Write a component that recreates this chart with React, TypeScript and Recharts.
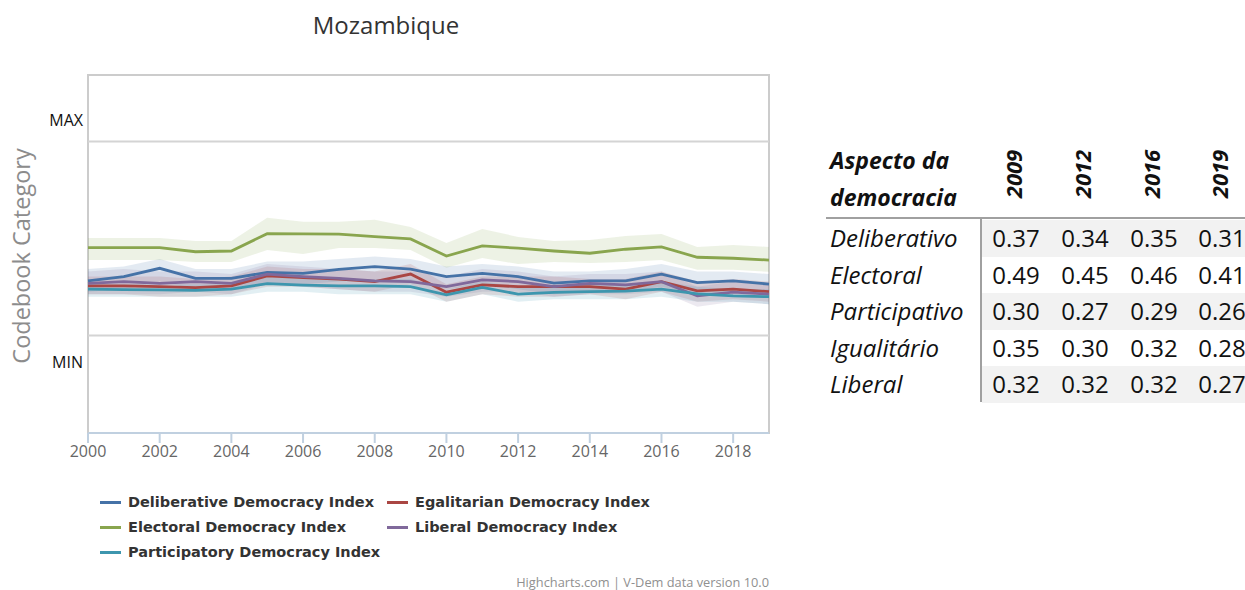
import { ComposedChart, Line, Area, XAxis, YAxis, ReferenceLine, ReferenceArea } from 'recharts';

const years = [2000, 2001, 2002, 2003, 2004, 2005, 2006, 2007, 2008, 2009, 2010, 2011, 2012, 2013, 2014, 2015, 2016, 2017, 2018, 2019];
const xTicks = [2000, 2002, 2004, 2006, 2008, 2010, 2012, 2014, 2016, 2018];

// index estimates (0..1 scale)
const deliberative = [0.323, 0.34, 0.373, 0.333, 0.333, 0.357, 0.353, 0.369, 0.38, 0.37, 0.34, 0.353, 0.34, 0.314, 0.323, 0.323, 0.35, 0.316, 0.323, 0.31];
const deliberativeLow = [0.28, 0.29, 0.32, 0.29, 0.29, 0.31, 0.31, 0.32, 0.33, 0.32, 0.29, 0.31, 0.29, 0.27, 0.28, 0.28, 0.3, 0.27, 0.28, 0.27];
const deliberativeHigh = [0.37, 0.38, 0.41, 0.37, 0.37, 0.4, 0.4, 0.41, 0.42, 0.41, 0.38, 0.39, 0.38, 0.36, 0.36, 0.37, 0.39, 0.36, 0.36, 0.35];

const egalitarian = [0.303, 0.303, 0.3, 0.296, 0.303, 0.343, 0.336, 0.33, 0.32, 0.35, 0.278, 0.307, 0.3, 0.3, 0.3, 0.29, 0.32, 0.283, 0.29, 0.28];
const egalitarianLow = [0.27, 0.27, 0.26, 0.26, 0.27, 0.3, 0.3, 0.29, 0.28, 0.31, 0.24, 0.27, 0.26, 0.26, 0.27, 0.25, 0.28, 0.24, 0.25, 0.24];
const egalitarianHigh = [0.34, 0.34, 0.34, 0.33, 0.34, 0.38, 0.37, 0.37, 0.36, 0.39, 0.31, 0.34, 0.34, 0.34, 0.33, 0.33, 0.36, 0.32, 0.33, 0.32];

const electoral = [0.455, 0.455, 0.455, 0.439, 0.442, 0.511, 0.51, 0.509, 0.499, 0.49, 0.422, 0.462, 0.453, 0.442, 0.433, 0.449, 0.458, 0.417, 0.413, 0.406];
const electoralLow = [0.406, 0.406, 0.406, 0.398, 0.398, 0.446, 0.43, 0.454, 0.454, 0.446, 0.375, 0.414, 0.39, 0.398, 0.394, 0.398, 0.406, 0.367, 0.367, 0.359];
const electoralHigh = [0.494, 0.494, 0.494, 0.482, 0.482, 0.574, 0.558, 0.558, 0.566, 0.538, 0.474, 0.53, 0.498, 0.482, 0.486, 0.502, 0.51, 0.458, 0.466, 0.458];

const liberal = [0.313, 0.32, 0.313, 0.32, 0.313, 0.35, 0.34, 0.333, 0.323, 0.32, 0.3, 0.327, 0.32, 0.3, 0.313, 0.307, 0.32, 0.263, 0.278, 0.27];
const liberalLow = [0.27, 0.27, 0.27, 0.28, 0.27, 0.31, 0.3, 0.29, 0.28, 0.28, 0.26, 0.28, 0.28, 0.26, 0.27, 0.27, 0.28, 0.22, 0.24, 0.23];
const liberalHigh = [0.36, 0.37, 0.36, 0.36, 0.35, 0.39, 0.38, 0.37, 0.36, 0.36, 0.34, 0.37, 0.36, 0.34, 0.35, 0.35, 0.36, 0.3, 0.32, 0.31];

const participatory = [0.29, 0.288, 0.287, 0.285, 0.29, 0.312, 0.306, 0.303, 0.303, 0.3, 0.267, 0.297, 0.27, 0.277, 0.28, 0.282, 0.29, 0.271, 0.263, 0.26];
const participatoryLow = [0.26, 0.26, 0.26, 0.26, 0.26, 0.28, 0.28, 0.27, 0.27, 0.27, 0.24, 0.27, 0.24, 0.25, 0.25, 0.25, 0.26, 0.24, 0.24, 0.23];
const participatoryHigh = [0.31, 0.31, 0.31, 0.31, 0.31, 0.34, 0.33, 0.33, 0.33, 0.33, 0.29, 0.32, 0.3, 0.3, 0.31, 0.31, 0.32, 0.3, 0.29, 0.29];

const yTicks = [0, 0.964];
const yTickLabels = ['MIN', 'MAX'];

const tableYears = ['2009', '2012', '2016', '2019'];
const tableRows = ['Deliberativo', 'Electoral', 'Participativo', 'Igualitário', 'Liberal'];
const tableDeliberativo = [0.37, 0.34, 0.35, 0.31];
const tableElectoral = [0.49, 0.45, 0.46, 0.41];
const tableParticipativo = [0.3, 0.27, 0.29, 0.26];
const tableIgualitario = [0.35, 0.3, 0.32, 0.28];
const tableLiberal = [0.32, 0.32, 0.32, 0.27];
const tableValues = [tableDeliberativo, tableElectoral, tableParticipativo, tableIgualitario, tableLiberal];

const series = [
  { key: 'deliberative', name: 'Deliberative Democracy Index', color: '#4572A7', values: deliberative, low: deliberativeLow, high: deliberativeHigh },
  { key: 'egalitarian', name: 'Egalitarian Democracy Index', color: '#AA4643', values: egalitarian, low: egalitarianLow, high: egalitarianHigh },
  { key: 'electoral', name: 'Electoral Democracy Index', color: '#89A54E', values: electoral, low: electoralLow, high: electoralHigh },
  { key: 'liberal', name: 'Liberal Democracy Index', color: '#80699B', values: liberal, low: liberalLow, high: liberalHigh },
  { key: 'participatory', name: 'Participatory Democracy Index', color: '#3D96AE', values: participatory, low: participatoryLow, high: participatoryHigh },
];

const data = years.map((year, i) => {
  const row: Record<string, any> = { year };
  series.forEach((s) => {
    row[s.key] = s.values[i];
    row[s.key + 'Band'] = [s.low[i], s.high[i]];
  });
  return row;
});

const Y_MIN = -0.283;
const Y_MAX = 1.143;
const chartFont = '"Open Sans", sans-serif';
const legendFont = '"DejaVu Sans", sans-serif';
const tableFont = '"Open Sans", sans-serif';

const colX = [1016, 1085, 1154, 1222];
const rowTop = 220;
const rowH = 36.6;

export default function App() {
  return (
    <div style={{ position: 'absolute', left: 0, top: 0, width: 1245, height: 590, background: '#fff', overflow: 'hidden' }}>
      <div style={{ position: 'absolute', left: 0, top: 8, width: 772, textAlign: 'center', fontFamily: chartFont, fontSize: 24, lineHeight: '34px', color: '#333' }}>
        Mozambique
      </div>
      <div
        style={{
          position: 'absolute', left: 21, top: 256, transform: 'translate(-50%, -50%) rotate(-90deg)',
          whiteSpace: 'nowrap', fontFamily: chartFont, fontSize: 23.5, color: '#8c8c8c',
        }}
      >
        Codebook Category
      </div>

      <div style={{ position: 'absolute', left: 0, top: 0 }}>
        <ComposedChart width={780} height={590} data={data} margin={{ top: 75, right: 11, left: 28, bottom: 127 }}>
          <XAxis
            dataKey="year"
            type="number"
            domain={[2000, 2019]}
            ticks={xTicks}
            tickSize={10}
            tickMargin={3}
            stroke="#C0D0E0"
            strokeWidth={2}
            height={30}
            tick={{ fill: '#666', fontSize: 16, fontFamily: chartFont }}
          />
          <YAxis
            type="number"
            domain={[Y_MIN, Y_MAX]}
            allowDataOverflow
            ticks={yTicks}
            tickFormatter={(v) => yTickLabels[yTicks.indexOf(v)]}
            width={60}
            axisLine={false}
            tickLine={false}
            tickSize={0}
            tickMargin={5}
            tick={{ fill: '#111', fontSize: 16, fontFamily: chartFont }}
          />
          <ReferenceArea x1={2000} x2={2019} y1={Y_MIN} y2={Y_MAX} fill="none" stroke="#CCCCCC" strokeWidth={2} />
          <ReferenceLine y={0.878} stroke="#D4D4D4" strokeWidth={2} />
          <ReferenceLine y={0.105} stroke="#D4D4D4" strokeWidth={2} />
          {series.map((s) => (
            <Area
              key={s.key + 'Band'}
              dataKey={s.key + 'Band'}
              type="linear"
              stroke="none"
              fill={s.color}
              fillOpacity={0.15}
              dot={false}
              activeDot={false}
              isAnimationActive={false}
            />
          ))}
          {series.map((s) => (
            <Line
              key={s.key}
              dataKey={s.key}
              name={s.name}
              type="linear"
              stroke={s.color}
              strokeWidth={2.8}
              dot={false}
              activeDot={false}
              isAnimationActive={false}
            />
          ))}
        </ComposedChart>
      </div>

      {series.map((s, i) => {
        const col = i % 2;
        const row = Math.floor(i / 2);
        return (
          <div
            key={s.key}
            style={{
              position: 'absolute', left: col === 0 ? 100 : 387, top: 492 + row * 25, height: 20,
              display: 'flex', alignItems: 'center', fontFamily: legendFont, fontSize: 14.5, fontWeight: 'bold', color: '#333', whiteSpace: 'nowrap',
            }}
          >
            <span style={{ display: 'inline-block', width: 21, height: 3, background: s.color, marginRight: 7 }} />
            {s.name}
          </div>
        );
      })}

      <div style={{ position: 'absolute', right: 1245 - 769, top: 575, fontFamily: chartFont, fontSize: 12.8, lineHeight: '14px', color: '#909090', whiteSpace: 'nowrap' }}>
        Highcharts.com | V-Dem data version 10.0
      </div>

      {/* table */}
      <div style={{ position: 'absolute', left: 830, top: 142, fontFamily: tableFont, fontSize: 23, fontStyle: 'italic', fontWeight: 'bold', color: '#111', lineHeight: '37px' }}>
        Aspecto da<br />democracia
      </div>
      {tableYears.map((y, j) => (
        <div
          key={y}
          style={{
            position: 'absolute', left: colX[j] - 3, top: 174, transform: 'translate(-50%, -50%) rotate(-90deg)',
            fontFamily: tableFont, fontSize: 22, fontStyle: 'italic', fontWeight: 'bold', color: '#111', whiteSpace: 'nowrap',
          }}
        >
          {y}
        </div>
      ))}
      <div style={{ position: 'absolute', left: 826, top: 217, width: 419, height: 2, background: '#A0A0A0' }} />
      <div style={{ position: 'absolute', left: 980, top: 219, width: 2, height: 183, background: '#A0A0A0' }} />
      {tableRows.map((label, r) => (
        <div key={label}>
          {r % 2 === 0 && (
            <div style={{ position: 'absolute', left: 982, top: rowTop + r * rowH, width: 263, height: rowH, background: '#F2F2F2' }} />
          )}
          <div
            style={{
              position: 'absolute', left: 830, top: rowTop + r * rowH, height: rowH, lineHeight: rowH + 'px',
              fontFamily: tableFont, fontSize: 24, fontStyle: 'italic', color: '#111', whiteSpace: 'nowrap',
            }}
          >
            {label}
          </div>
          {tableValues[r].map((v, j) => (
            <div
              key={j}
              style={{
                position: 'absolute', left: colX[j] - 35, width: 70, textAlign: 'center', top: rowTop + r * rowH, height: rowH, lineHeight: rowH + 'px',
                fontFamily: tableFont, fontSize: 24, color: '#111',
              }}
            >
              {v.toFixed(2)}
            </div>
          ))}
        </div>
      ))}
    </div>
  );
}
